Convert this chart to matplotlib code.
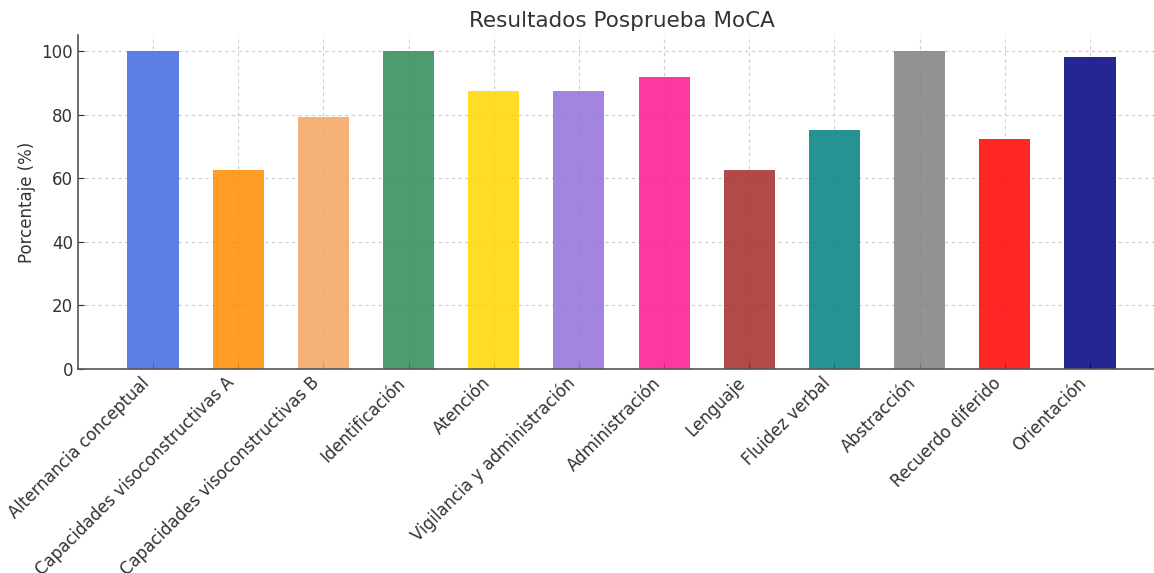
import matplotlib
matplotlib.use("Agg")
import matplotlib.pyplot as plt
import numpy as np

# datos de la posprueba MoCA
categorias = ["Alternancia conceptual", "Capacidades visoconstructivas A",
              "Capacidades visoconstructivas B", "Identificación", "Atención",
              "Vigilancia y administración", "Administración", "Lenguaje",
              "Fluidez verbal", "Abstracción", "Recuerdo diferido", "Orientación"]
porcentajes = [100, 62.5, 79.2, 100, 87.5, 87.5, 91.7, 62.5, 75, 100, 72.4, 98]
colores = ["royalblue", "darkorange", "sandybrown", "seagreen", "gold", "mediumpurple",
           "deeppink", "brown", "teal", "gray", "red", "navy"]

texto = "#333333"
plt.rcParams["font.family"] = "DejaVu Sans"

fig = plt.figure(figsize=(11.54, 5.73), dpi=100)
ax = fig.add_axes([78 / 1154, 204 / 573, 1087 / 1154, 334 / 573])

x = np.arange(len(categorias))
ax.bar(x, porcentajes, width=0.6, color=colores, alpha=0.85, zorder=2)

ax.set_xticks(x)
ax.set_xticklabels(categorias, rotation=45, ha="right", fontsize=12, color=texto)
ax.set_yticks([0, 20, 40, 60, 80, 100])
ax.tick_params(axis="y", labelsize=12, colors=texto)
ax.tick_params(direction="in", length=4, color=texto)
ax.set_ylim(0, 105)
ax.set_xlim(-0.88, len(categorias) - 1 + 0.88)

ax.set_ylabel("Porcentaje (%)", fontsize=12, color=texto)
ax.set_title("Resultados Posprueba MoCA", fontsize=15.5, color=texto, pad=6)

ax.grid(True, linestyle=(0, (3, 3)), color="#c8c8c8", linewidth=0.8, alpha=0.9, zorder=3)
for s in ["top", "right"]:
    ax.spines[s].set_visible(False)
for s in ["left", "bottom"]:
    ax.spines[s].set_color("#555555")
    ax.spines[s].set_linewidth(1.2)

fig.savefig("out.png", dpi=100)
